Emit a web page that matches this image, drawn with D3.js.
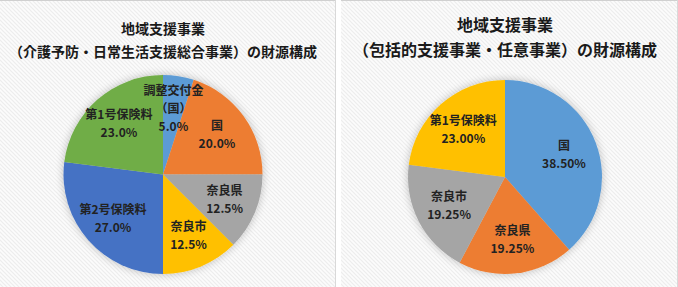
<!DOCTYPE html>
<html>
<head>
<meta charset="utf-8">
<script src="https://cdn.jsdelivr.net/npm/d3@7"></script>
<style>
  body { margin: 0; background: #fff; }
  svg { display: block; }
  text { font-family: "Noto Sans CJK JP", "Noto Sans", sans-serif; font-weight: bold; }
</style>
</head>
<body>
<script>
// left chart: 介護予防・日常生活支援総合事業
const leftNames = ["調整交付金\n（国）", "国", "奈良県", "奈良市", "第2号保険料", "第1号保険料"];
const leftValues = [5.0, 20.0, 12.5, 12.5, 27.0, 23.0];
const leftLabels = ["5.0%", "20.0%", "12.5%", "12.5%", "27.0%", "23.0%"];
const leftColors = ["#5b9bd5", "#ed7d31", "#a5a5a5", "#ffc000", "#4472c4", "#70ad47"];

// right chart: 包括的支援事業・任意事業
const rightNames = ["国", "奈良県", "奈良市", "第1号保険料"];
const rightValues = [38.5, 19.25, 19.25, 23.0];
const rightLabels = ["38.50%", "19.25%", "19.25%", "23.00%"];
const rightColors = ["#5b9bd5", "#ed7d31", "#a5a5a5", "#ffc000"];

const W = 678, H = 287;

let svg = d3.select("body").append("svg")
  .attr("width", W)
  .attr("height", H);

let defs = svg.append("defs");

// faint diagonal hatch used as chart area background
let pat = defs.append("pattern")
  .attr("id", "hatch")
  .attr("width", 4).attr("height", 4)
  .attr("patternUnits", "userSpaceOnUse");
pat.append("rect").attr("width", 4).attr("height", 4).attr("fill", "#fcfcfc");
pat.append("path")
  .attr("d", "M-1,-1 L5,5 M-1,3 L1,5 M3,-1 L5,1")
  .attr("stroke", "#ededed")
  .attr("stroke-width", 1.2);

let shadow = defs.append("filter")
  .attr("id", "glow")
  .attr("x", "-20%").attr("y", "-20%")
  .attr("width", "140%").attr("height", "140%");
shadow.append("feGaussianBlur")
  .attr("in", "SourceAlpha")
  .attr("stdDeviation", 4)
  .attr("result", "b");
shadow.append("feComponentTransfer")
  .attr("in", "b").attr("result", "s")
  .append("feFuncA").attr("type", "linear").attr("slope", 0.25);
let merge = shadow.append("feMerge");
merge.append("feMergeNode").attr("in", "s");
merge.append("feMergeNode").attr("in", "SourceGraphic");

const drawPanel = (opt) => {
  let g = svg.append("g").attr("transform", "translate(" + opt.x + ",0)");

  g.append("rect")
    .attr("width", opt.w).attr("height", H)
    .attr("fill", "url(#hatch)");
  // thin frame lines at top and right
  g.append("line")
    .attr("x1", 0).attr("x2", opt.w).attr("y1", 0.5).attr("y2", 0.5)
    .attr("stroke", "#d0d0d0");
  g.append("line")
    .attr("x1", opt.w - 0.5).attr("x2", opt.w - 0.5).attr("y1", 0).attr("y2", H)
    .attr("stroke", "#d9d9d9");

  g.selectAll("text.title")
    .data(opt.title)
    .enter()
    .append("text")
    .attr("class", "title")
    .attr("x", opt.cx)
    .attr("y", (d, i) => opt.titleY + i * opt.titleGap)
    .attr("text-anchor", "middle")
    .attr("font-size", opt.titleSize)
    .attr("fill", "#1a1a1a")
    .text(d => d);

  let pie = d3.pie().sort(null).value(d => d);
  let arcs = pie(opt.values);
  let arc = d3.arc().innerRadius(0).outerRadius(opt.r);
  let labelArc = d3.arc().innerRadius(opt.r * opt.lr).outerRadius(opt.r * opt.lr);

  let pg = g.append("g").attr("transform", "translate(" + opt.cx + "," + opt.cy + ")");

  pg.append("g")
    .attr("filter", "url(#glow)")
    .selectAll("path")
    .data(arcs)
    .enter()
    .append("path")
    .attr("d", arc)
    .attr("fill", (d, i) => opt.colors[i]);

  let lab = pg.selectAll("g.lab")
    .data(arcs)
    .enter()
    .append("g")
    .attr("class", "lab")
    .attr("transform", d => "translate(" + labelArc.centroid(d) + ")");

  lab.each(function(d, i) {
    let lines = opt.names[i].split("\n").concat([opt.labels[i]]);
    let n = lines.length;
    d3.select(this).selectAll("text")
      .data(lines)
      .enter()
      .append("text")
      .attr("text-anchor", "middle")
      .attr("font-size", 12)
      .attr("fill", "#222")
      .attr("y", (t, k) => (k - (n - 1) / 2) * 18 + 4)
      .text(t => t);
  });
};

drawPanel({
  x: 0, w: 336, cx: 163, cy: 174.5, r: 99.5, lr: 0.67,
  title: ["地域支援事業", "（介護予防・日常生活支援総合事業）の財源構成"],
  titleY: 34, titleGap: 23, titleSize: 14,
  names: leftNames, values: leftValues, labels: leftLabels, colors: leftColors
});

drawPanel({
  x: 341, w: 337, cx: 164, cy: 177, r: 97, lr: 0.65,
  title: ["地域支援事業", "（包括的支援事業・任意事業）の財源構成"],
  titleY: 31, titleGap: 25, titleSize: 16,
  names: rightNames, values: rightValues, labels: rightLabels, colors: rightColors
});
</script>
</body>
</html>
